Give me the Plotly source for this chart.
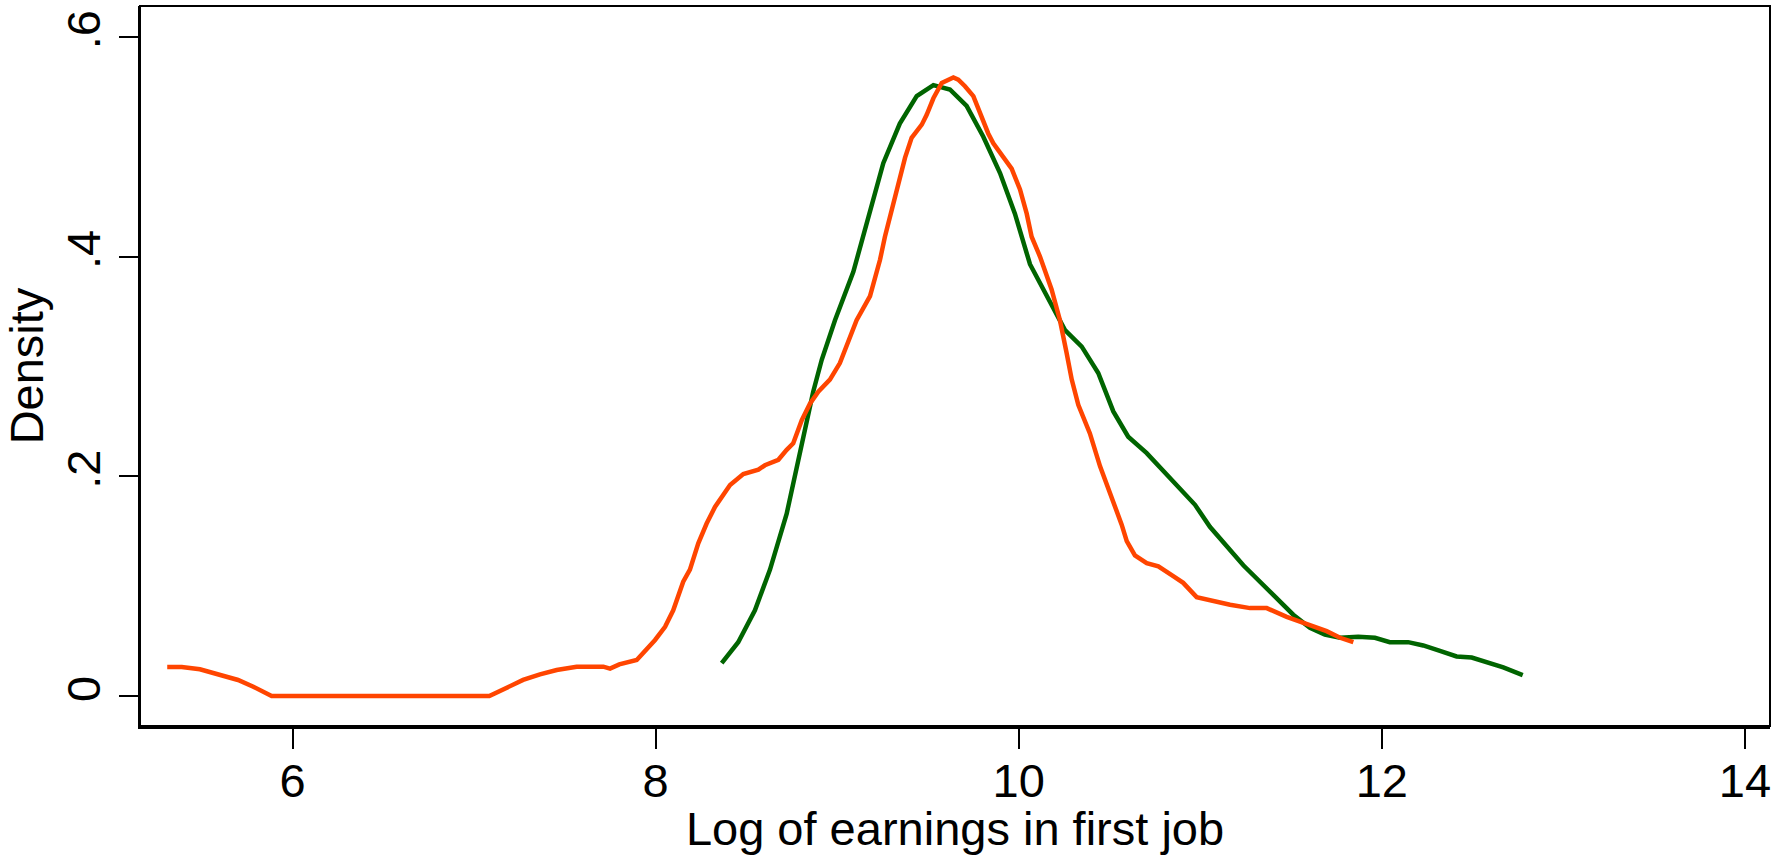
import plotly.graph_objects as go

# Orange series (kernel density, first curve)
orange_x = [5.310, 5.390, 5.490, 5.600, 5.700, 5.784, 5.840, 5.885, 7.084, 7.180, 7.270, 7.363,
            7.455, 7.565, 7.712, 7.749, 7.800, 7.896, 7.950, 7.997, 8.052, 8.097, 8.152, 8.189,
            8.235, 8.281, 8.327, 8.410, 8.483, 8.566, 8.602, 8.676, 8.722, 8.758, 8.805, 8.850,
            8.896, 8.960, 9.015, 9.061, 9.107, 9.181, 9.208, 9.236, 9.263, 9.291, 9.337, 9.374,
            9.410, 9.466, 9.493, 9.530, 9.576, 9.640, 9.667, 9.704, 9.750, 9.787, 9.832, 9.860,
            9.915, 9.961, 10.007, 10.044, 10.071, 10.117, 10.181, 10.227, 10.264, 10.292, 10.328,
            10.392, 10.448, 10.521, 10.567, 10.595, 10.640, 10.705, 10.769, 10.851, 10.906, 10.980,
            11.072, 11.164, 11.274, 11.366, 11.476, 11.586, 11.696, 11.770, 11.843]
orange_y = [0.0264, 0.0264, 0.0243, 0.0190, 0.0146, 0.0085, 0.0033, 0.0, 0.0, 0.0076, 0.0146, 0.0197,
            0.0237, 0.0267, 0.0267, 0.0249, 0.0288, 0.0328, 0.0419, 0.051, 0.063, 0.078, 0.104, 0.115,
            0.139, 0.157, 0.172, 0.192, 0.202, 0.206, 0.210, 0.215, 0.224, 0.230, 0.251, 0.266,
            0.277, 0.288, 0.303, 0.324, 0.342, 0.364, 0.379, 0.397, 0.418, 0.436, 0.464, 0.490,
            0.508, 0.520, 0.529, 0.544, 0.558, 0.563, 0.561, 0.555, 0.546, 0.530, 0.512, 0.503,
            0.491, 0.480, 0.461, 0.439, 0.418, 0.400, 0.370, 0.342, 0.312, 0.288, 0.265,
            0.239, 0.209, 0.178, 0.156, 0.141, 0.128, 0.121, 0.118, 0.109, 0.103, 0.090,
            0.086, 0.083, 0.080, 0.080, 0.072, 0.065, 0.059, 0.053, 0.049]

# Green series (kernel density, second curve)
green_x = [8.364, 8.455, 8.547, 8.630, 8.722, 8.768, 8.813, 8.868, 8.915, 8.988, 9.089, 9.171,
           9.254, 9.345, 9.438, 9.530, 9.621, 9.713, 9.805, 9.897, 9.979, 10.062, 10.117, 10.255,
           10.347, 10.438, 10.521, 10.603, 10.705, 10.870, 10.971, 11.053, 11.237, 11.402, 11.512,
           11.604, 11.686, 11.770, 11.870, 11.962, 12.044, 12.145, 12.228, 12.320, 12.412, 12.495,
           12.577, 12.669, 12.776]
green_y = [0.030, 0.049, 0.078, 0.115, 0.166, 0.200, 0.236, 0.277, 0.306, 0.342, 0.386, 0.436,
           0.485, 0.521, 0.546, 0.556, 0.552, 0.537, 0.509, 0.476, 0.439, 0.393, 0.376, 0.333,
           0.318, 0.294, 0.259, 0.236, 0.221, 0.191, 0.174, 0.154, 0.119, 0.092, 0.074,
           0.062, 0.056, 0.053, 0.054, 0.053, 0.049, 0.049, 0.046, 0.041, 0.036, 0.035,
           0.031, 0.026, 0.019]

x_ticks = [6, 8, 10, 12, 14]
x_tick_labels = ["6", "8", "10", "12", "14"]
y_ticks = [0, 0.2, 0.4, 0.6]
y_tick_labels = ["0", ".2", ".4", ".6"]

FONT = "Liberation Sans, Arial, Helvetica, sans-serif"

fig = go.Figure()
fig.add_trace(go.Scatter(x=green_x, y=green_y, mode="lines",
                         line=dict(color="#006400", width=4.5), showlegend=False))
fig.add_trace(go.Scatter(x=orange_x, y=orange_y, mode="lines",
                         line=dict(color="#FF4500", width=4.5), showlegend=False))

fig.update_layout(
    width=1785, height=855,
    margin=dict(l=140, r=15, t=6, b=129),
    paper_bgcolor="white", plot_bgcolor="white",
    font=dict(family=FONT, size=47, color="black"),
    xaxis=dict(
        range=[5.160, 14.138], tickmode="array", tickvals=x_ticks, ticktext=x_tick_labels,
        ticks="outside", ticklen=20, tickwidth=2, tickcolor="black",
        showline=True, linecolor="black", linewidth=3, mirror=False, automargin=False,
        showgrid=False, zeroline=False, ticklabelstandoff=-8,
        title=dict(text="Log of earnings in first job", font=dict(size=47), standoff=7),
        tickfont=dict(size=47),
    ),
    yaxis=dict(
        range=[-0.0273, 0.628], tickmode="array", tickvals=y_ticks, ticktext=y_tick_labels,
        ticks="outside", ticklen=19, tickwidth=2, tickcolor="black", tickangle=-90,
        showline=True, linecolor="black", linewidth=2, mirror=False, automargin=False,
        showgrid=False, zeroline=False, ticklabelstandoff=0,
        title=dict(text="Density", font=dict(size=47), standoff=0),
        tickfont=dict(size=47),
    ),
    shapes=[dict(type="rect", xref="paper", yref="paper", x0=0, y0=0, x1=1, y1=1,
                 line=dict(color="black", width=2), fillcolor="rgba(0,0,0,0)", layer="above")],
)

fig.write_html("out.html", config={"displayModeBar": False},
               post_script="document.body.style.margin='0';document.body.style.overflow='hidden';")
